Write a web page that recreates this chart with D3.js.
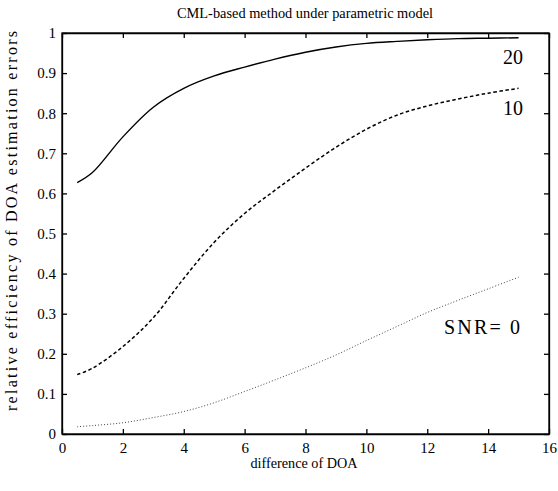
<!DOCTYPE html>
<html lang="en">
<head>
<meta charset="utf-8">
<script src="https://d3js.org/d3.v7.min.js"></script>
<style>
  body { margin: 0; background: #fff; }
  .axis path, .axis line { stroke: #000; stroke-width: 1.3; }
</style>
</head>
<body>
<script>
// difference of DOA (x values)
const doa = [0.5, 1, 2, 3, 4, 5, 6, 7, 8, 9, 10, 11, 12, 13, 14, 15];

// relative efficiency, one list per SNR
const snr20 = [0.627, 0.652, 0.741, 0.815, 0.862, 0.893, 0.915, 0.935, 0.952, 0.965, 0.974, 0.979, 0.983, 0.986, 0.987, 0.988];
const snr10 = [0.148, 0.164, 0.218, 0.290, 0.388, 0.478, 0.550, 0.608, 0.663, 0.715, 0.760, 0.795, 0.818, 0.835, 0.850, 0.862];
const snr0  = [0.018, 0.021, 0.028, 0.041, 0.056, 0.078, 0.106, 0.135, 0.165, 0.197, 0.233, 0.268, 0.303, 0.333, 0.362, 0.391];

const xTicks = [0, 2, 4, 6, 8, 10, 12, 14, 16];
const yTicks = [0, 0.1, 0.2, 0.3, 0.4, 0.5, 0.6, 0.7, 0.8, 0.9, 1];

const W = 558, H = 491;
const mLeft = 62, mRight = 549, mTop = 33, mBottom = 434;

const serif = '"Liberation Serif", "Times New Roman", Tinos, serif';

const svg = d3.select("body").append("svg")
    .attr("width", W)
    .attr("height", H)
    .attr("font-family", serif);

const x = d3.scaleLinear().domain([0, 16]).range([mLeft, mRight]);
const y = d3.scaleLinear().domain([0, 1]).range([mBottom, mTop]);

// box frame
svg.append("rect")
    .attr("x", mLeft).attr("y", mTop)
    .attr("width", mRight - mLeft).attr("height", mBottom - mTop)
    .attr("fill", "none").attr("stroke", "#000").attr("stroke-width", 1.3);

// axes with inward ticks
svg.append("g").attr("class", "axis")
    .attr("transform", `translate(0,${mBottom})`)
    .call(d3.axisBottom(x).tickValues(xTicks).tickFormat(d3.format("d"))
        .tickSizeInner(-5).tickSizeOuter(0).tickPadding(8))
    .attr("font-family", serif).attr("font-size", 15);

svg.append("g").attr("class", "axis")
    .attr("transform", `translate(${mLeft},0)`)
    .call(d3.axisLeft(y).tickValues(yTicks).tickFormat(d => d === 0 || d === 1 ? d : d3.format(".1f")(d))
        .tickSizeInner(-5).tickSizeOuter(0).tickPadding(6))
    .attr("font-family", serif).attr("font-size", 15);

svg.append("g").attr("class", "axis")
    .attr("transform", `translate(0,${mTop})`)
    .call(d3.axisTop(x).tickValues(xTicks).tickFormat("")
        .tickSizeInner(-5).tickSizeOuter(0));

svg.append("g").attr("class", "axis")
    .attr("transform", `translate(${mRight},0)`)
    .call(d3.axisRight(y).tickValues(yTicks).tickFormat("")
        .tickSizeInner(-5).tickSizeOuter(0));

// curves
const line = d3.line()
    .x((d, i) => x(doa[i]))
    .y(d => y(d))
    .curve(d3.curveCatmullRom.alpha(0.5));

svg.append("path").datum(snr20)
    .attr("d", line).attr("fill", "none")
    .attr("stroke", "#000").attr("stroke-width", 1.4);

svg.append("path").datum(snr10)
    .attr("d", line).attr("fill", "none")
    .attr("stroke", "#000").attr("stroke-width", 1.5)
    .attr("stroke-dasharray", "3.5,2.5");

svg.append("path").datum(snr0)
    .attr("d", line).attr("fill", "none")
    .attr("stroke", "#444").attr("stroke-width", 1)
    .attr("stroke-dasharray", "1,2");

// curve labels
svg.append("text").attr("x", 513).attr("y", 64)
    .attr("text-anchor", "middle").attr("font-size", 20).text("20");
svg.append("text").attr("x", 513).attr("y", 115)
    .attr("text-anchor", "middle").attr("font-size", 20).text("10");
svg.append("text").attr("x", 482).attr("y", 334)
    .attr("text-anchor", "middle").attr("font-size", 20)
    .attr("textLength", 76).text("SNR= 0");

// titles
svg.append("text").attr("x", 305).attr("y", 18)
    .attr("text-anchor", "middle").attr("font-size", 14)
    .attr("textLength", 256).attr("lengthAdjust", "spacingAndGlyphs")
    .text("CML-based method under parametric model");

svg.append("text").attr("x", 304).attr("y", 468)
    .attr("text-anchor", "middle").attr("font-size", 14)
    .attr("textLength", 107).attr("lengthAdjust", "spacingAndGlyphs")
    .text("difference of DOA");

svg.append("text")
    .attr("transform", "translate(17,221) rotate(-90)")
    .attr("text-anchor", "middle").attr("font-size", 16)
    .attr("textLength", 380).attr("lengthAdjust", "spacing")
    .text("relative efficiency of DOA estimation errors");
</script>
</body>
</html>
